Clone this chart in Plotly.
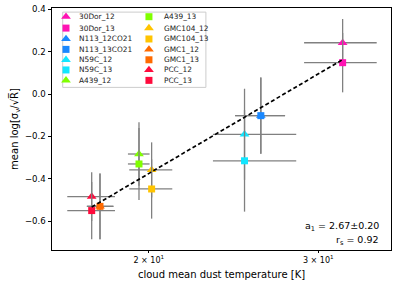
import numpy as np
import plotly.graph_objects as go

names = ['30Dor_12', '30Dor_13', 'N113_12CO21', 'N113_13CO21', 'N59C_12', 'N59C_13',
         'A439_12', 'A439_13', 'GMC104_12', 'GMC104_13', 'GMC1_12', 'GMC1_13', 'PCC_12', 'PCC_13']
temp = [31.8, 31.8, 26.15, 26.15, 25.15, 25.15, 19.54, 19.54, 20.14, 20.14, 17.8, 17.8, 17.45, 17.45]
temp_err_lo = [2.8, 2.8, 1.56, 1.56, 1.83, 1.83, 0.51, 0.51, 1.05, 1.05, 0.55, 0.55, 0.99, 0.99]
temp_err_hi = [2.7, 2.7, 1.56, 1.56, 3.31, 3.31, 0.50, 0.50, 1.02, 1.02, 0.58, 0.58, 1.00, 1.00]
mean_val = [0.242, 0.148, -0.102, -0.102, -0.19, -0.315, -0.283, -0.33, -0.358, -0.448,
            -0.53, -0.53, -0.484, -0.55]
val_err = [0.112, 0.14, 0.18, 0.18, 0.215, 0.24, 0.15, 0.17, 0.13, 0.14, 0.155, 0.155, 0.115, 0.135]
colors = ['#ff14b4', '#ff14b4', '#1a88ff', '#1a88ff', '#12e6ff', '#12e6ff', '#80ff00', '#80ff00',
          '#ffc400', '#ffc400', '#ff6a00', '#ff6a00', '#ff0a3c', '#ff0a3c']
symbols = ['triangle-up', 'square'] * 7

fit_slope = 2.67
fit_intercept = -3.849

def msize(i):
    return 8.5 if i % 2 == 0 else 7

fig = go.Figure()
for i, n in enumerate(names):
    fig.add_trace(go.Scatter(
        x=[temp[i]], y=[mean_val[i]], mode='markers', name=n, showlegend=False,
        marker=dict(symbol=symbols[i], color=colors[i], size=msize(i), line=dict(width=0)),
        error_x=dict(type='data', symmetric=False, array=[temp_err_hi[i]],
                     arrayminus=[temp_err_lo[i]], color='#808080', thickness=1.3, width=0),
        error_y=dict(type='data', array=[val_err[i]], color='#808080', thickness=1.3, width=0),
    ))

tx = np.array([min(temp), max(temp)])
ty = fit_slope * np.log10(tx) + fit_intercept
fig.add_trace(go.Scatter(x=tx, y=ty, mode='lines', showlegend=False,
                         line=dict(color='black', width=1.7, dash='4px,2.5px')))

# manual legend (two columns)
row_y = [0.964, 0.917, 0.872, 0.829, 0.786, 0.744, 0.701]
col_mx = [0.0413, 0.286]
col_tx = [0.0746, 0.3236]
for i, n in enumerate(names):
    c = i // 7
    r = i % 7
    fig.add_trace(go.Scatter(
        x=[col_mx[c]], y=[row_y[r]], xaxis='x2', yaxis='y2', mode='markers', showlegend=False,
        hoverinfo='skip',
        marker=dict(symbol=symbols[i], color=colors[i], size=msize(i), line=dict(width=0))))
    fig.add_annotation(x=col_tx[c], y=row_y[r], xref='paper', yref='paper', text=n,
                       showarrow=False, xanchor='left', yanchor='middle',
                       font=dict(family='DejaVu Sans', size=7.4, color='#1a1a1a'))

fig.add_shape(type='rect', xref='paper', yref='paper', x0=0.0316, x1=0.454, y0=0.672, y1=0.983,
              line=dict(color='#cccccc', width=1), fillcolor='rgba(255,255,255,0.8)', layer='below')

fig.add_annotation(x=0.97, y=0.098, xref='paper', yref='paper',
                   text='a<sub>1</sub> = 2.67±0.20', showarrow=False, xanchor='right',
                   yanchor='middle', font=dict(family='DejaVu Sans', size=9.5, color='black'))
fig.add_annotation(x=0.97, y=0.041, xref='paper', yref='paper',
                   text='r<sub>s</sub> = 0.92', showarrow=False, xanchor='right',
                   yanchor='middle', font=dict(family='DejaVu Sans', size=9.5, color='black'))

fig.update_layout(
    width=399, height=284,
    margin=dict(l=52, r=8, t=8, b=34, autoexpand=False),
    plot_bgcolor='white', paper_bgcolor='white',
    font=dict(family='DejaVu Sans', size=8.6, color='black'),
    xaxis=dict(type='log', range=[np.log10(15.87), np.log10(35.7)], automargin=False,
               tickvals=[20, 30], ticktext=['2 × 10<sup>1</sup>', '3 × 10<sup>1</sup>'],
               ticks='outside', ticklen=2, tickwidth=0.8, tickcolor='black',
               showgrid=False, zeroline=False, showline=True, linecolor='black', linewidth=1,
               mirror=True, tickfont=dict(size=8),
               title=dict(text='cloud mean dust temperature [K]', font=dict(size=10), standoff=7)),
    yaxis=dict(range=[-0.736, 0.406], tickvals=[-0.6, -0.4, -0.2, 0.0, 0.2, 0.4], automargin=False,
               ticktext=['−0.6', '−0.4', '−0.2', '0.0', '0.2', '0.4'],
               ticks='outside', ticklen=3.5, tickwidth=0.8, tickcolor='black',
               showgrid=False, zeroline=False, showline=True, linecolor='black', linewidth=1,
               mirror=True, tickfont=dict(size=8.6),
               title=dict(text='mean log[σ<sub>v</sub>/√R̅]', font=dict(size=10), standoff=4)),
    xaxis2=dict(overlaying='x', range=[0, 1], visible=False, fixedrange=True),
    yaxis2=dict(overlaying='y', range=[0, 1], visible=False, fixedrange=True),
    showlegend=False,
)

fig.write_html('out.html', config={'displayModeBar': False},
               post_script="document.body.style.margin='0';document.body.style.overflow='hidden';")
